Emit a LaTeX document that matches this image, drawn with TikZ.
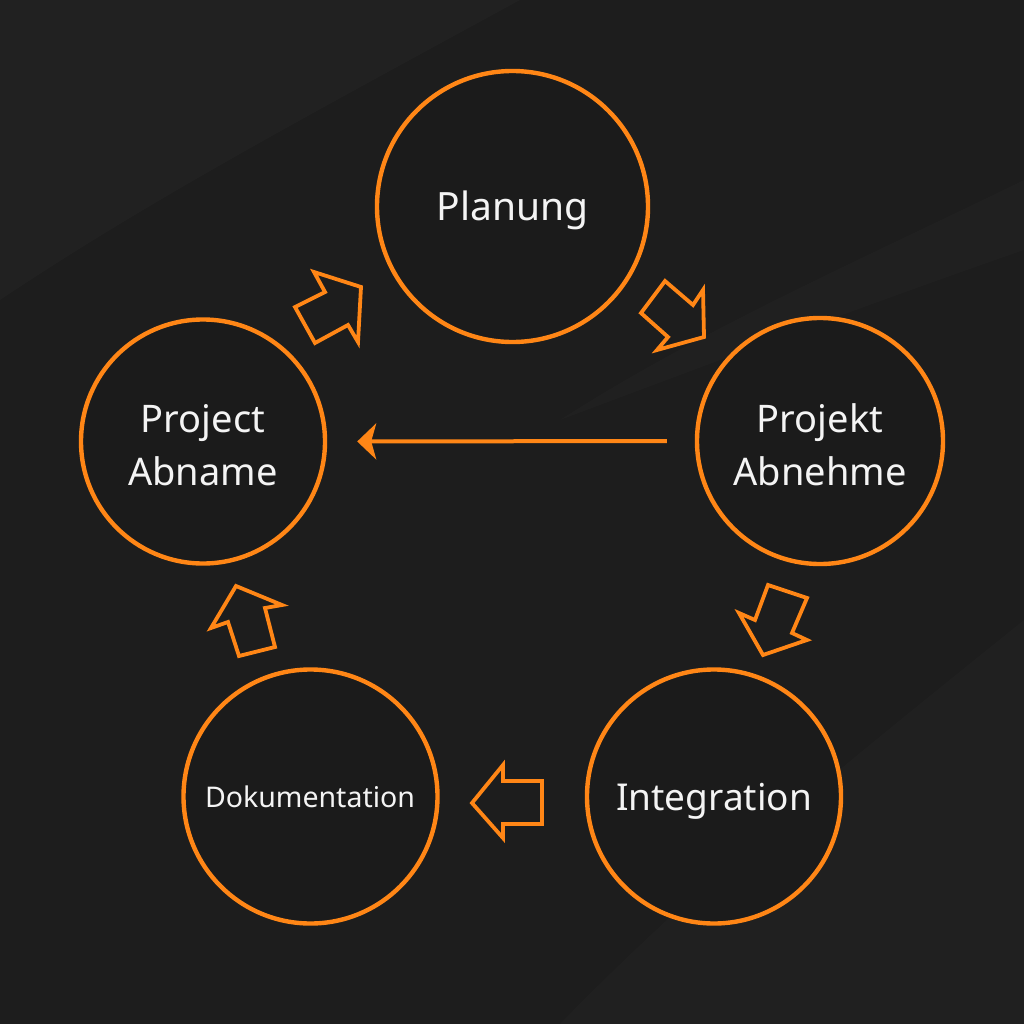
\documentclass[tikz,border=0pt]{standalone}
\usepackage{fontspec}
\setmainfont{Noto Sans}
\usetikzlibrary{arrows.meta}
\definecolor{bg}{HTML}{1D1D1D}
\definecolor{cfill}{HTML}{1B1B1B}
\definecolor{org}{HTML}{FF8616}
\definecolor{txt}{HTML}{F4F4F4}
\begin{document}
\begin{tikzpicture}[x=1pt,y=-1pt,
  circ/.style={circle, draw=org, line width=4.4pt, fill=cfill, inner sep=0pt},
  lbl/.style={text=txt, align=center, font=\fontsize{38}{53}\selectfont, inner sep=0pt},
  blockarrow/.style={draw=org, line width=3.8pt, line join=miter},
  longarrow/.style={draw=org, line width=4pt, -{Stealth[length=19pt, width=36pt, inset=5pt]}}
]
\useasboundingbox (0,0) rectangle (1024,1024);
\fill[bg] (0,0) rectangle (1024,1024);
% subtle background streaks
\fill[white, opacity=0.018] (0,300) .. controls (150,200) and (300,120) .. (520,0) -- (0,0) -- cycle;
\fill[white, opacity=0.015] (1024,180) .. controls (860,260) and (700,330) .. (560,420) .. controls (720,360) and (880,300) .. (1024,250) -- cycle;
\fill[white, opacity=0.015] (1024,620) .. controls (850,760) and (700,880) .. (560,1024) -- (1024,1024) -- cycle;

% circles
\node[circ, minimum size=271pt] (plan) at (512.5,206.5) {};
\node[circ, minimum size=246pt] (pabn) at (820,441) {};
\node[circ, minimum size=244pt] (pabm) at (203,441.5) {};
\node[circ, minimum size=254pt] (intg) at (714,796.5) {};
\node[circ, minimum size=254pt] (doku) at (310.5,796.5) {};

% labels
\node[lbl, anchor=base, font=\fontsize{39}{53}\selectfont] (tplan) at (512.5,221) {Planung};
\node[lbl, anchor=base] (tpabn) at (820,485) {Projekt\\Abnehme};
\node[lbl, anchor=base] (tpabm) at (203,485) {Project\\Abname};
\node[lbl, anchor=base, font=\fontsize{37}{53}\selectfont] (tintg) at (714,810) {Integration};
\node[lbl, anchor=base, font=\fontsize{28.5}{34}\selectfont] (tdoku) at (310,807) {Dokumentation};

% long arrow
\draw[longarrow, shorten <=28pt, shorten >=30pt] (pabn.west) -- (pabm.east);

% block arrows
\draw[blockarrow] (361,287) -- (314,272) -- (325,292) -- (295,307) -- (315,343) -- (348,325) -- (358,342) -- cycle;
\draw[blockarrow] (665,281) -- (693,305) -- (703,290) -- (704,337) -- (657,350) -- (668,337) -- (641,313) -- cycle;
\draw[blockarrow] (768,585) -- (807,598) -- (792,633) -- (807,640) -- (763,655) -- (739,613) -- (755,620) -- cycle;
\draw[blockarrow] (472,803) -- (503,765) -- (503,781) -- (542,781) -- (542,824) -- (503,824) -- (503,838) -- cycle;
\draw[blockarrow] (236,586) -- (282,605) -- (265,608) -- (275,647) -- (239,656) -- (228,622) -- (211,628) -- cycle;
\end{tikzpicture}
\end{document}
